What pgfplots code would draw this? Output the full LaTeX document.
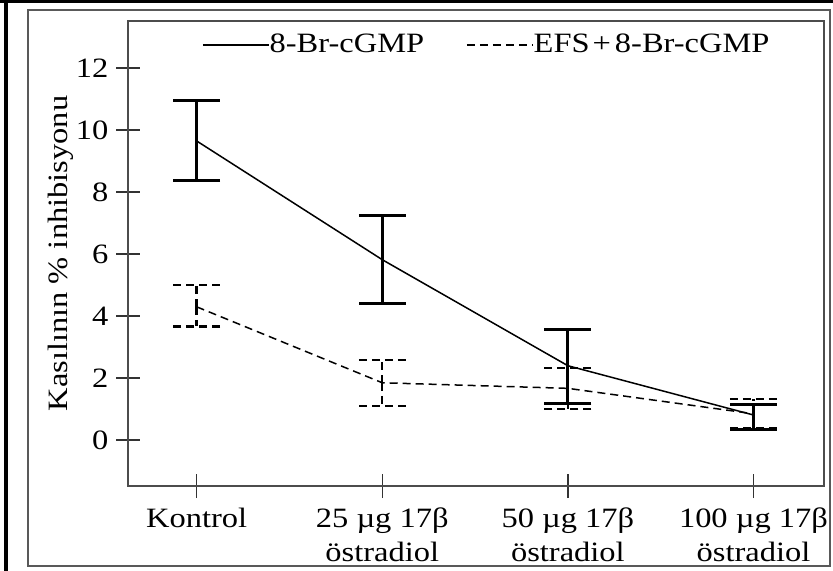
\documentclass[border=0pt]{standalone}
\usepackage{fontspec}
\setmainfont{Liberation Serif}[FakeStretch=1.16]
\usepackage{pgfplots}
\pgfplotsset{compat=1.18}
\begin{document}
\fontsize{14}{17}\selectfont
\begin{tikzpicture}
\path[use as bounding box] (-64pt,-42.5pt) rectangle (352.5pt,243pt);
\begin{axis}[
  scale only axis,
  width=348pt, height=232.5pt,
  xmin=-0.37, xmax=3.38,
  ymin=-1.48, ymax=13.52,
  xtick={0,1,2,3},
  xticklabels={Kontrol,{25 µg 17β\\östradiol},{50 µg 17β\\östradiol},{100 µg 17β\\östradiol}},
  x tick label style={align=center, yshift=0pt},
  ytick={0,2,4,6,8,10,12},
  y tick label style={xshift=1pt},
  /pgf/number format/assume math mode=true,
  tick pos=left,
  tick align=center,
  major tick length=12pt,
  axis line style={black!70, line width=0.8pt},
  tick style={black!80, line width=0.7pt},
  ylabel={Kasılının \% inhibisyonu},
  ylabel style={at={(rel axis cs:-0.097,0.5)}, anchor=center},
  legend columns=2,
  legend style={at={(rel axis cs:0.106,0.948)}, anchor=west, draw=none, fill=none,
    inner sep=0pt, nodes={inner xsep=0pt, inner ysep=0pt},
    /tikz/every even column/.append style={column sep=21pt}},
  legend image code/.code={\draw[#1] (0pt,0pt) -- (33pt,0pt);},
]
\addplot[black, line width=0.75pt, mark=none,
  error bars/.cd, y dir=both, y explicit,
  error bar style={line width=1.5pt},
  error mark options={rotate=90, mark size=11.75pt, line width=1.5pt}]
  coordinates {
    (0,9.65) += (0,1.30) -= (0,1.26)
    (1,5.82) += (0,1.43) -= (0,1.40)
    (2,2.40) += (0,1.17) -= (0,1.23)
    (3,0.81) += (0,0.35) -= (0,0.46)
  };
\addlegendentry{8-Br-cGMP}
\addplot[black, line width=0.75pt, mark=none, dash pattern=on 4pt off 2.5pt,
  error bars/.cd, y dir=both, y explicit,
  error bar style={line width=1.2pt, dash pattern=on 4pt off 2.5pt},
  error mark options={rotate=90, mark size=11.75pt, line width=1.2pt, dash pattern=on 4pt off 2.5pt}]
  coordinates {
    (0,4.30) += (0,0.71) -= (0,0.63)
    (1,1.85) += (0,0.73) -= (0,0.74)
    (2,1.67) += (0,0.66) -= (0,0.66)
    (3,0.85) += (0,0.47) -= (0,0.47)
  };
\addlegendentry{EFS\hspace{1.5pt}+\hspace{2pt}8-Br-cGMP}
\end{axis}
\draw[black!65, line width=0.7pt] (-50pt,-40pt) rectangle (351pt,238pt);
\draw[black, line width=1.6pt] (-64pt,242.2pt) -- (352.5pt,242.2pt);
\draw[black, line width=1.6pt] (-61pt,-42.5pt) -- (-61pt,243pt);
\end{tikzpicture}
\end{document}
